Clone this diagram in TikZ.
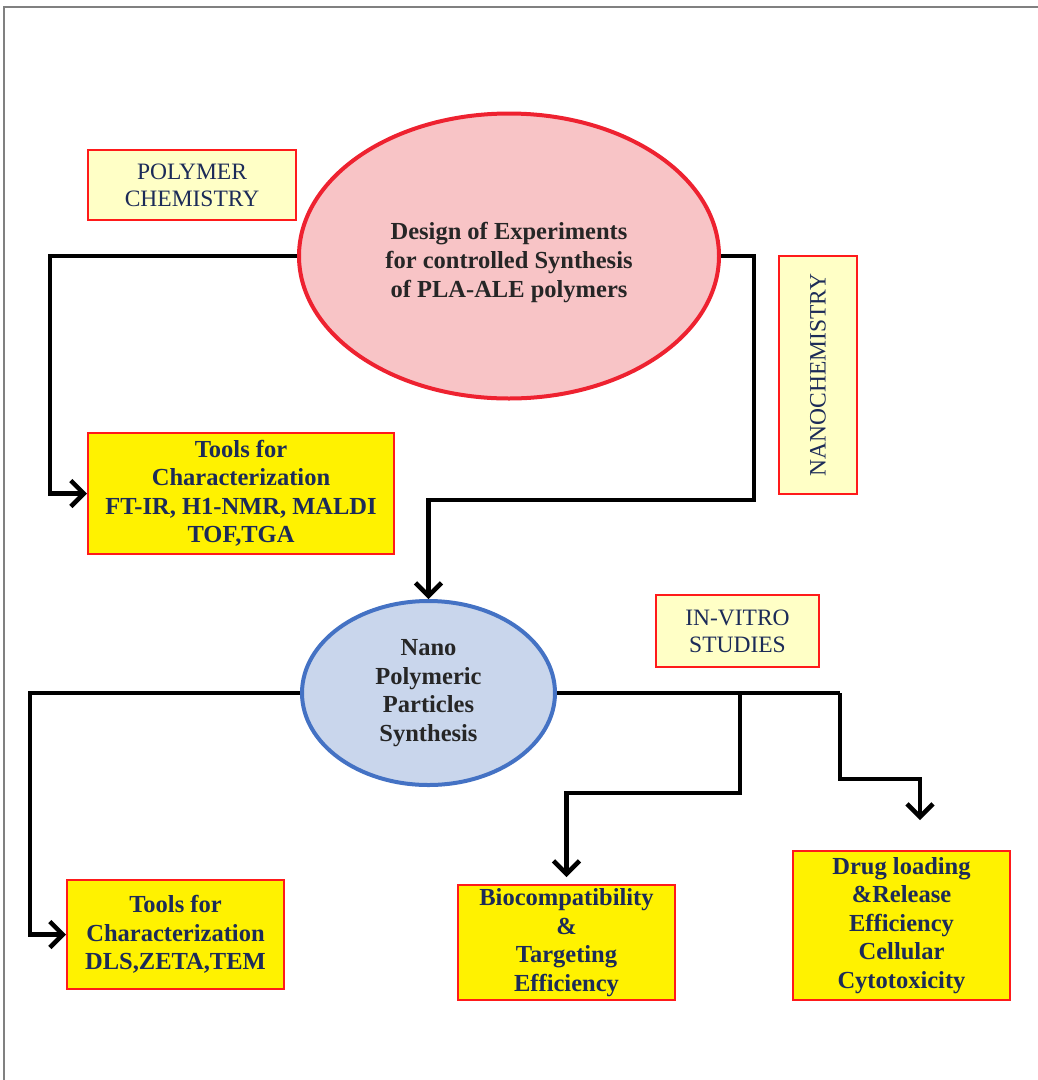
\documentclass[tikz,border=0pt]{standalone}
\usepackage{fontspec}
\setmainfont{Liberation Serif}
\usetikzlibrary{shapes.geometric,arrows.meta}
\definecolor{navy}{HTML}{1C2B58}
\definecolor{boxred}{HTML}{FF1A1A}
\definecolor{paleyel}{HTML}{FFFFC6}
\definecolor{ellred}{HTML}{EE2230}
\definecolor{ellpink}{HTML}{F8C4C6}
\definecolor{ellblue}{HTML}{4472C4}
\definecolor{ellfill}{HTML}{C9D6EC}
\begin{document}
\begin{tikzpicture}[x=1pt,y=-1pt,
  labelbox/.style={draw=boxred,line width=1.8pt,fill=paleyel,text=navy,align=center,inner sep=0pt,
    font=\fontsize{23.5}{27}\selectfont},
  toolbox/.style={draw=boxred,line width=2pt,fill=yellow,text=navy,align=center,inner sep=0pt,
    font=\fontsize{24.5}{28.5}\selectfont\bfseries},
  conn/.style={line width=4.5pt,black},
  arr/.style={conn,-{Straight Barb[length=13pt,width=26pt,line width=4.5pt]}}]
\useasboundingbox (0,0) rectangle (1038,1080);
\draw[gray,line width=2pt] (4,1080) -- (4,7) -- (1038,7);

\node[ellipse,draw=ellred,line width=4pt,fill=ellpink,minimum width=420pt,minimum height=285pt,inner sep=0pt,
  align=center,text=black!85,font=\fontsize{24.5}{29}\selectfont\bfseries] (e1) at (509,256)
  {\rule{0pt}{30pt}Design of Experiments\\for controlled Synthesis\\of PLA-ALE polymers};
\node[labelbox,minimum width=208pt,minimum height=70pt] (poly) at (192,185) {POLYMER\\CHEMISTRY};
\node[toolbox,minimum width=306pt,minimum height=121pt] (tools1) at (241,493.5)
  {Tools for\\Characterization\\FT-IR, H1-NMR, MALDI\\TOF,TGA};
\node[labelbox,rotate=90,minimum width=238pt,minimum height=78pt] (nano) at (818,375) {NANOCHEMISTRY};

\node[ellipse,draw=ellblue,line width=4pt,fill=ellfill,minimum width=253pt,minimum height=184pt,inner sep=0pt,
  align=center,text=black!85,font=\fontsize{24.5}{28.5}\selectfont\bfseries] (e2) at (428.5,693)
  {Nano\\Polymeric\\Particles\\Synthesis};
\node[labelbox,minimum width=163pt,minimum height=72pt] (vitro) at (737.5,631) {IN-VITRO\\STUDIES};
\node[toolbox,minimum width=217pt,minimum height=109pt] (tools2) at (175.5,934.5)
  {Tools for\\Characterization\\DLS,ZETA,TEM};
\node[toolbox,minimum width=217pt,minimum height=115pt] (bio) at (566.5,942.5)
  {Biocompatibility\\\&\\Targeting\\Efficiency};
\node[toolbox,minimum width=217pt,minimum height=149pt] (drug) at (901.5,925.5)
  {Drug loading\\\&Release\\Efficiency\\Cellular\\Cytotoxicity};

\coordinate (l1) at (50,256);
\coordinate (r1) at (754,256);
\coordinate (r2) at (754,500);
\coordinate (l2) at (30,693);
\coordinate (b0) at (740,693);
\coordinate (b1) at (740,793);
\coordinate (b2) at (566.5,793);
\coordinate (d0) at (840,693);
\coordinate (d1) at (840,779);
\coordinate (d2) at (920,779);
\coordinate (d3) at (920,820);

\draw[arr] (e1.west) -- (l1) |- (tools1.west);
\draw[arr] (e1.east) -- (r1) -- (r2) -| (e2.north);
\draw[arr] (e2.west) -- (l2) |- (tools2.west);
\draw[conn] (e2.east) -- (d0);
\draw[arr] (d0) -- (d1) -- (d2) -- (d3);
\draw[arr,shorten >=7pt] (b0) -- (b1) -- (b2) -- (bio.north);
\end{tikzpicture}
\end{document}
